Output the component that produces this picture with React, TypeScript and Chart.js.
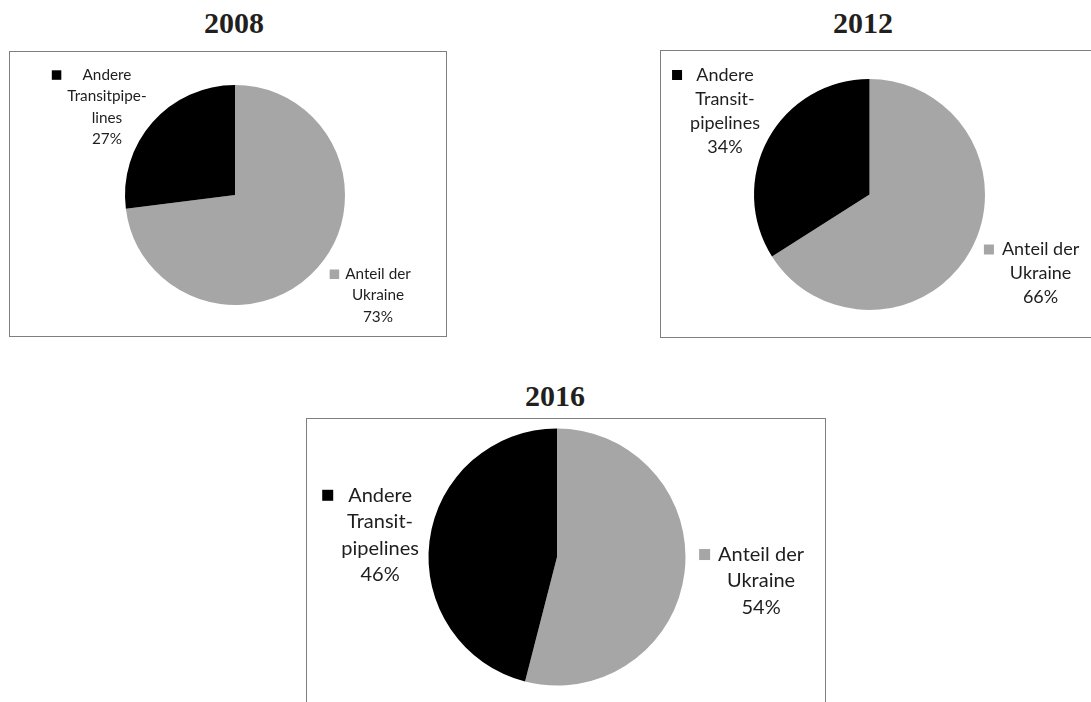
import React, { useEffect, useRef } from "react";
import { Chart, registerables } from "chart.js";

Chart.register(...registerables);

// ---- data ----
const years = ["2008", "2012", "2016"];
const categories = ["Anteil der Ukraine", "Andere Transitpipelines"];
const ukraineShare = [73, 66, 54];
const otherShare = [27, 34, 46];
const ukraineLabelLines = [
  ["Anteil der", "Ukraine"],
  ["Anteil der", "Ukraine"],
  ["Anteil der", "Ukraine"],
];
const otherLabelLines = [
  ["Andere", "Transitpipe-", "lines"],
  ["Andere", "Transit-", "pipelines"],
  ["Andere", "Transit-", "pipelines"],
];
const sliceColors = ["#a6a6a6", "#000000"];

// ---- layout (positions / styles) ----
const panels = [
  {
    box: { left: 9, top: 51, width: 438, height: 286 },
    titleX: 234,
    titleTop: 8,
    padding: { left: 115, top: 33, right: 101, bottom: 31 },
    fontSize: 15.3,
    lineHeight: 21.3,
    square: 9.5,
    gap: 6,
    offsets: [
      [1.3, 0.914],
      [-1.164, -0.8],
    ],
  },
  {
    box: { left: 660, top: 50, width: 460, height: 288 },
    titleX: 863,
    titleTop: 8,
    padding: { left: 93, top: 28, right: 134, bottom: 27 },
    fontSize: 18,
    lineHeight: 24,
    square: 10,
    gap: 8,
    offsets: [
      [1.481, 0.684],
      [-1.251, -0.723],
    ],
  },
  {
    box: { left: 306, top: 418, width: 520, height: 300 },
    titleX: 555,
    titleTop: 381,
    padding: { left: 121.5, top: 9.5, right: 139.5, bottom: 31.5 },
    fontSize: 20,
    lineHeight: 26.5,
    square: 11,
    gap: 8,
    offsets: [
      [1.588, 0.187],
      [-1.377, -0.171],
    ],
  },
];

const sliceLabelPlugin = {
  id: "sliceLabels",
  afterDatasetsDraw(chart: any, _args: any, opts: any) {
    const ctx = chart.ctx;
    const meta = chart.getDatasetMeta(0);
    const ds = chart.data.datasets[0];
    meta.data.forEach((arc: any, i: number) => {
      const { x, y, outerRadius } = arc.getProps(["x", "y", "outerRadius"], true);
      const lines = [...opts.lines[i], ds.data[i] + "%"];
      const cx = x + opts.offsets[i][0] * outerRadius;
      const cy = y + opts.offsets[i][1] * outerRadius;
      ctx.save();
      ctx.font = `${opts.fontSize}px Lato`;
      ctx.fillStyle = "#1e1e1e";
      ctx.textAlign = "center";
      ctx.textBaseline = "middle";
      const n = lines.length;
      const widest = Math.max(...lines.map((l: string) => ctx.measureText(l).width));
      lines.forEach((l: string, j: number) => {
        ctx.fillText(l, cx, cy + (j - (n - 1) / 2) * opts.lineHeight);
      });
      const y0 = cy - ((n - 1) / 2) * opts.lineHeight;
      ctx.fillStyle = ds.backgroundColor[i];
      ctx.fillRect(
        cx - widest / 2 - opts.gap - opts.square,
        y0 - opts.square / 2,
        opts.square,
        opts.square
      );
      ctx.restore();
    });
  },
};

function PiePanel({ index }: { index: number }) {
  const ref = useRef<HTMLCanvasElement | null>(null);
  const p = panels[index];
  useEffect(() => {
    if (!ref.current) return;
    const chart = new Chart(ref.current, {
      type: "pie",
      data: {
        labels: categories,
        datasets: [
          {
            data: [ukraineShare[index], otherShare[index]],
            backgroundColor: sliceColors,
            borderWidth: 0,
          },
        ],
      },
      options: {
        responsive: true,
        maintainAspectRatio: false,
        animation: false,
        events: [],
        layout: { padding: p.padding },
        plugins: {
          legend: { display: false },
          tooltip: { enabled: false },
          sliceLabels: {
            lines: [ukraineLabelLines[index], otherLabelLines[index]],
            offsets: p.offsets,
            fontSize: p.fontSize,
            lineHeight: p.lineHeight,
            square: p.square,
            gap: p.gap,
          },
        } as any,
      },
      plugins: [sliceLabelPlugin],
    });
    return () => chart.destroy();
  }, [index]);

  return (
    <>
      <div
        style={{
          position: "absolute",
          left: p.titleX - 100,
          top: p.titleTop,
          width: 200,
          textAlign: "center",
          fontFamily: "'Liberation Serif', serif",
          fontWeight: "bold",
          fontSize: 30,
          lineHeight: "30px",
          color: "#231f20",
        }}
      >
        {years[index]}
      </div>
      <div
        style={{
          position: "absolute",
          left: p.box.left,
          top: p.box.top,
          width: p.box.width,
          height: p.box.height,
          boxSizing: "border-box",
          border: "1px solid #7f7f7f",
        }}
      >
        <div style={{ position: "relative", width: "100%", height: "100%" }}>
          <canvas ref={ref} />
        </div>
      </div>
    </>
  );
}

export default function App() {
  return (
    <div
      style={{
        position: "fixed",
        left: 0,
        top: 0,
        width: 1091,
        height: 702,
        overflow: "hidden",
        background: "#ffffff",
      }}
    >
      {years.map((_, i) => (
        <PiePanel key={i} index={i} />
      ))}
    </div>
  );
}
